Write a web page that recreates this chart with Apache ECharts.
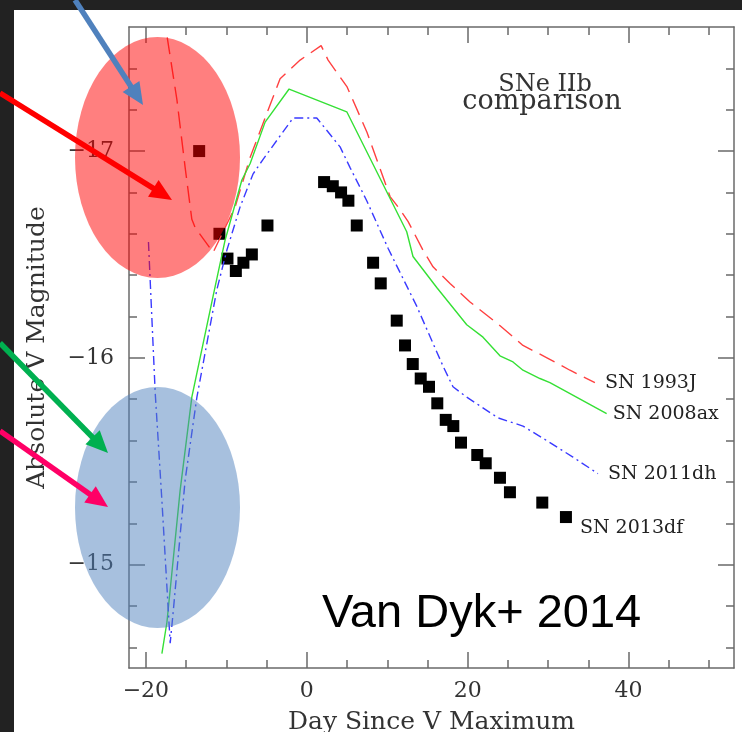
<!DOCTYPE html>
<html><head><meta charset="utf-8">
<script src="https://cdn.jsdelivr.net/npm/echarts@6/dist/echarts.min.js"></script>
<style>html,body{margin:0;padding:0;background:#fff;}#c{width:742px;height:732px;}</style>
</head><body><div id="c"></div>
<script>
// ---- axis ticks ----
const xMajorTicks = [-20, 0, 20, 40];
const xMinorTicks = [-15, -10, -5, 5, 10, 15, 25, 30, 35, 45, 50];
const yMajorTicks = [-17, -16, -15];
const yMinorTicks = [-17.4, -17.2, -16.8, -16.6, -16.4, -16.2, -15.8, -15.6, -15.4, -15.2, -14.8, -14.6];

// ---- SN 1993J (red dashed) ----
const sn1993jDays = [-17.35, -16.15, -15.12, -14.29, -13.88, -11.64, -8.91, -7.04, -5.18, -3.32, -0.83, 1.78, 2.65, 5.01, 7.49, 10.35, 11.34, 12.58, 14.45, 15.69, 17.80, 20.29, 23.89, 26.87, 29.85, 32.71, 35.81];
const sn1993jMag  = [-17.55, -17.25, -16.92, -16.67, -16.63, -16.51, -16.73, -16.97, -17.16, -17.35, -17.44, -17.51, -17.44, -17.31, -17.09, -16.78, -16.73, -16.66, -16.52, -16.44, -16.36, -16.27, -16.16, -16.06, -16.00, -15.94, -15.88];

// ---- SN 2008ax (green solid) ----
const sn2008axDays = [-18.01, -17.39, -15.74, -14.29, -11.64, -10.15, -8.07, -7.04, -5.18, -2.20, 4.97, 12.42, 13.20, 16.15, 19.88, 21.90, 24.01, 25.63, 26.87, 28.98, 30.22, 37.27];
const sn2008axMag  = [-14.57, -14.72, -15.36, -15.81, -16.30, -16.57, -16.86, -16.94, -17.14, -17.30, -17.19, -16.61, -16.49, -16.34, -16.16, -16.10, -16.01, -15.98, -15.94, -15.90, -15.88, -15.73];

// ---- SN 2011dh (blue dash-dot) ----
const sn2011dhDays = [-19.68, -18.84, -18.01, -16.98, -16.61, -15.12, -13.66, -11.18, -9.94, -8.29, -6.67, -5.43, -1.70, 1.24, 4.14, 5.38, 7.45, 10.10, 13.66, 16.93, 18.17, 19.88, 23.76, 26.87, 29.81, 33.08, 36.19];
const sn2011dhMag  = [-16.56, -15.83, -15.31, -14.62, -14.77, -15.41, -15.81, -16.33, -16.52, -16.73, -16.89, -16.96, -17.16, -17.16, -17.02, -16.92, -16.76, -16.53, -16.25, -15.96, -15.86, -15.81, -15.71, -15.67, -15.60, -15.52, -15.44];

// ---- SN 2013df (black squares) ----
const sn2013dfDays = [-13.38, -10.86, -9.86, -8.82, -7.88, -6.83, -4.89, 2.15, 3.23, 4.26, 5.17, 6.21, 8.24, 9.19, 11.18, 12.21, 13.17, 14.16, 15.19, 16.22, 17.27, 18.21, 19.17, 21.19, 22.24, 24.01, 25.25, 29.27, 32.21];
const sn2013dfMag  = [-17.00, -16.60, -16.48, -16.42, -16.46, -16.50, -16.64, -16.85, -16.83, -16.80, -16.76, -16.64, -16.46, -16.36, -16.18, -16.06, -15.97, -15.90, -15.86, -15.78, -15.70, -15.67, -15.59, -15.53, -15.49, -15.42, -15.35, -15.30, -15.23];

const seriesNames = ['SN 1993J', 'SN 2008ax', 'SN 2011dh', 'SN 2013df'];
const xTitle = 'Day Since V Maximum';
const yTitle = 'Absolute V Magnitude';
const boxTitle1 = 'SNe IIb';
const boxTitle2 = 'comparison';
const creditText = 'Van Dyk+ 2014';

const X_MIN = -22.1, X_MAX = 53.1, Y_MIN = -17.6, Y_MAX = -14.5;
const SERIF = "'DejaVu Serif', 'Liberation Serif', serif";
const AX = '#6a6a6a';

function pairs(xs, ys) { return xs.map((x, i) => [x, ys[i]]); }
function fmt(v) { return (v < 0 ? '\u2212' : '') + Math.abs(v); }

function xAxisDef(pos, major) {
  return {
    type: 'value', position: pos, min: X_MIN, max: X_MAX,
    axisLine: { show: major, onZero: false, lineStyle: { color: AX, width: 1.5 } },
    axisTick: { show: true, inside: true, length: major ? 16 : 8,
      customValues: major ? xMajorTicks : xMinorTicks, lineStyle: { color: AX, width: 1.5 } },
    axisLabel: { show: major && pos === 'bottom', customValues: xMajorTicks, formatter: fmt,
      fontFamily: SERIF, fontSize: 22, color: '#333', margin: 12 },
    splitLine: { show: false }
  };
}
function yAxisDef(pos, major) {
  return {
    type: 'value', position: pos, min: Y_MIN, max: Y_MAX, inverse: true,
    axisLine: { show: major, onZero: false, lineStyle: { color: AX, width: 1.5 } },
    axisTick: { show: true, inside: true, length: major ? 16 : 8,
      customValues: major ? yMajorTicks : yMinorTicks, lineStyle: { color: AX, width: 1.5 } },
    axisLabel: { show: major && pos === 'left', customValues: yMajorTicks, formatter: fmt,
      fontFamily: SERIF, fontSize: 22, color: '#333', margin: 15 },
    splitLine: { show: false }
  };
}

function arrow(x1, y1, x2, y2, color) {
  const dx = x2 - x1, dy = y2 - y1, L = Math.hypot(dx, dy), ux = dx / L, uy = dy / L;
  const hl = 22, hw = 10;
  const bx = x2 - ux * hl, by = y2 - uy * hl;
  return [
    { type: 'line', z: 200, shape: { x1: x1, y1: y1, x2: bx + ux * 2, y2: by + uy * 2 },
      style: { stroke: color, lineWidth: 5.5 } },
    { type: 'polygon', z: 200, shape: { points: [[x2, y2], [bx - uy * hw, by + ux * hw], [bx + uy * hw, by - ux * hw]] },
      style: { fill: color } }
  ];
}

const labelStyle = { fontFamily: SERIF, fontSize: 19, color: '#222' };

const chart = echarts.init(document.getElementById('c'), null, { renderer: 'canvas' });
const scatterData = pairs(sn2013dfDays, sn2013dfMag).map((p, i, arr) => i === arr.length - 1
  ? { value: p, label: Object.assign({ show: true, position: 'right', distance: 8, offset: [0, 11], formatter: seriesNames[3] }, labelStyle) }
  : p);

chart.setOption({
  animation: false,
  backgroundColor: '#ffffff',
  grid: { left: 129, right: 8, top: 27, bottom: 64, containLabel: false, outerBoundsMode: 'none' },
  xAxis: [xAxisDef('bottom', true), xAxisDef('bottom', false), xAxisDef('top', true), xAxisDef('top', false)],
  yAxis: [yAxisDef('left', true), yAxisDef('left', false), yAxisDef('right', true), yAxisDef('right', false)],
  series: [
    { name: seriesNames[0], type: 'line', data: pairs(sn1993jDays, sn1993jMag), symbol: 'none',
      lineStyle: { color: '#ff4040', width: 1.4, type: [17, 8] },
      endLabel: Object.assign({ show: true, formatter: seriesNames[0], distance: 10 }, labelStyle) },
    { name: seriesNames[1], type: 'line', data: pairs(sn2008axDays, sn2008axMag), symbol: 'none',
      lineStyle: { color: '#35e035', width: 1.4, type: 'solid' },
      endLabel: Object.assign({ show: true, formatter: seriesNames[1], distance: 6 }, labelStyle) },
    { name: seriesNames[2], type: 'line', data: pairs(sn2011dhDays, sn2011dhMag), symbol: 'none',
      lineStyle: { color: '#3a3aff', width: 1.4, type: [9, 4, 2, 4] },
      endLabel: Object.assign({ show: true, formatter: seriesNames[2], distance: 10 }, labelStyle) },
    { name: seriesNames[3], type: 'scatter', data: scatterData, symbol: 'rect', symbolSize: 12,
      itemStyle: { color: '#000', opacity: 1 } }
  ],
  graphic: [
    // dark frame
    { type: 'rect', z: 150, shape: { x: 0, y: 0, width: 742, height: 10 }, style: { fill: '#222222' } },
    { type: 'rect', z: 150, shape: { x: 0, y: 0, width: 14, height: 732 }, style: { fill: '#222222' } },
    // titles
    { type: 'text', z: 50, x: 431.5, y: 722, style: { text: xTitle, fontFamily: SERIF, fontSize: 25, fill: '#333', align: 'center', verticalAlign: 'middle', textAlign: 'center', textVerticalAlign: 'middle' } },
    { type: 'text', z: 50, x: 37, y: 347.5, rotation: Math.PI / 2, style: { text: yTitle, fontFamily: SERIF, fontSize: 25, fill: '#333', align: 'center', verticalAlign: 'middle', textAlign: 'center', textVerticalAlign: 'middle' } },
    { type: 'text', z: 50, x: 545, y: 85, style: { text: boxTitle1, fontFamily: SERIF, fontSize: 24, fill: '#333', align: 'center', verticalAlign: 'middle', textAlign: 'center', textVerticalAlign: 'middle' } },
    { type: 'text', z: 50, x: 542, y: 102, style: { text: boxTitle2, fontFamily: SERIF, fontSize: 27, fill: '#333', align: 'center', verticalAlign: 'middle', textAlign: 'center', textVerticalAlign: 'middle' } },
    // highlight ellipses
    { type: 'circle', z: 120, x: 157.5, y: 157.5, scaleY: 120.5 / 82.5, shape: { cx: 0, cy: 0, r: 82.5 }, style: { fill: 'rgba(255,0,0,0.5)' } },
    { type: 'circle', z: 120, x: 157.5, y: 507.5, scaleY: 120.5 / 82.5, shape: { cx: 0, cy: 0, r: 82.5 }, style: { fill: 'rgba(79,129,189,0.5)' } },
    // arrows
    ...arrow(75, 0, 143, 105, '#4f81bd'),
    ...arrow(0, 93, 172, 200, '#ff0000'),
    ...arrow(0, 343, 108, 453, '#00b050'),
    ...arrow(0, 431, 108, 507, '#ff0066'),
    // credit
    { type: 'text', z: 210, x: 322, y: 614, style: { text: creditText, fontFamily: "'Liberation Sans', Arial, sans-serif", fontSize: 47, fill: '#000', align: 'left', verticalAlign: 'middle', textAlign: 'left', textVerticalAlign: 'middle' } }
  ]
});
</script>
</body></html>
